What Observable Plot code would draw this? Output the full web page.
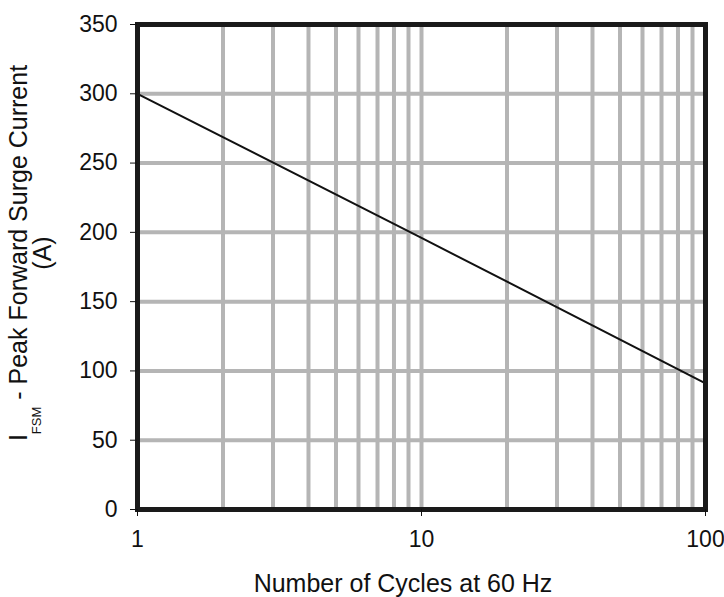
<!DOCTYPE html>
<html>
<head>
<meta charset="utf-8">
<script src="https://cdn.jsdelivr.net/npm/d3@7"></script>
<script src="https://cdn.jsdelivr.net/npm/@observablehq/plot@0.6"></script>
<style>
  html, body { margin: 0; padding: 0; background: #fff; }
  svg { font-family: "Liberation Sans", Arial, Helvetica, sans-serif; }
</style>
</head>
<body>
<div id="chart"></div>
<script>
// Data
const cycles = [1, 10, 100];
const current = [300, 196, 91];
const xTicks = [1, 10, 100];
const yTicks = [0, 50, 100, 150, 200, 250, 300, 350];
const xGrid = [2, 3, 4, 5, 6, 7, 8, 9, 10, 20, 30, 40, 50, 60, 70, 80, 90];
const yGrid = [50, 100, 150, 200, 250, 300];
const xLabel = "Number of Cycles at 60 Hz";

const data = cycles.map((c, i) => ({c, v: current[i]}));

const chart = Plot.plot({
  width: 724,
  height: 597,
  marginLeft: 137,
  marginTop: 24,
  marginRight: 19,
  marginBottom: 88,
  style: {fontSize: "23px", fontFamily: '"Liberation Sans", Arial, sans-serif', color: "#111"},
  x: {type: "log", domain: [1, 100], ticks: xTicks, tickFormat: d => String(d), label: null},
  y: {domain: [0, 350], ticks: yTicks, label: null},
  marks: [
    Plot.ruleX(xGrid, {stroke: "#b5b5b5", strokeWidth: 4}),
    Plot.ruleY(yGrid, {stroke: "#b5b5b5", strokeWidth: 4}),
    Plot.line(data, {x: "c", y: "v", stroke: "#111", strokeWidth: 2}),
    Plot.frame({stroke: "#1a1a1a", strokeWidth: 5}),
    Plot.axisX({ticks: xTicks, tickFormat: d => String(d), tickSize: 7, tickPadding: 14, label: null, fontSize: 23}),
    Plot.axisY({ticks: yTicks, tickSize: 7, tickPadding: 13, label: null, fontSize: 23})
  ]
});

const svg = d3.select(chart);
// x-axis title
svg.append("text")
  .attr("x", 403).attr("y", 592)
  .attr("text-anchor", "middle")
  .attr("font-size", 25)
  .attr("fill", "#111")
  .text(xLabel);

// y-axis title (two lines, rotated, with subscript)
const g = svg.append("g").attr("transform", "translate(27,253) rotate(-90)");
const t1 = g.append("text").attr("text-anchor", "middle").attr("font-size", 25).attr("fill", "#111");
t1.append("tspan").text("I");
t1.append("tspan").attr("font-size", 13).attr("dy", 14).text("FSM");
t1.append("tspan").attr("dy", -14).text(" - Peak Forward Surge Current");
g.append("text").attr("text-anchor", "middle").attr("font-size", 25).attr("fill", "#111")
  .attr("y", 24).text("(A)");

document.getElementById("chart").appendChild(chart);
</script>
</body>
</html>
